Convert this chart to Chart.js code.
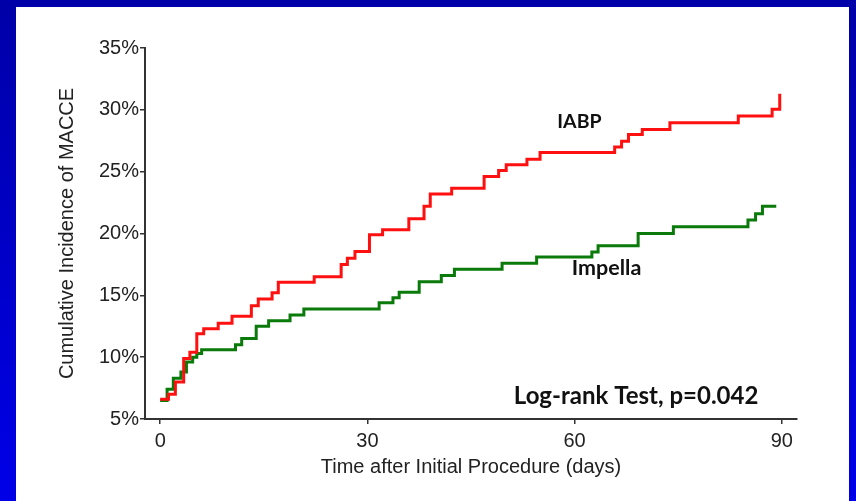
<!DOCTYPE html>
<html>
<head>
<meta charset="utf-8">
<script src="https://cdn.jsdelivr.net/npm/chart.js@4.4.1/dist/chart.umd.min.js"></script>
<style>
  html, body { margin: 0; padding: 0; }
  body {
    width: 856px;
    height: 501px;
    overflow: hidden;
    background: linear-gradient(to bottom, #0000a8, #0000e8);
    position: relative;
  }
  #panel {
    position: absolute;
    left: 16px;
    top: 7px;
    width: 833px;
    height: 494px;
    background: #fff;
  }
  #wrap {
    position: absolute;
    left: 0;
    top: 0;
    width: 856px;
    height: 501px;
  }
</style>
</head>
<body>
<div id="panel"></div>
<div id="wrap"><canvas id="chart"></canvas></div>
<script>
// Kaplan-Meier style cumulative incidence
const iabpDays = [0, 1.2, 2.2, 3.4, 4.3, 5.3, 6.3, 8.4, 10.4, 13.2, 14.2, 16.2, 17.1, 22.3, 26.2, 27.1, 28.2, 30.3, 32.2, 36.0, 38.2, 39.1, 42.2, 46.9, 49.0, 50.1, 53.1, 55.0, 65.8, 66.8, 67.8, 69.8, 73.8, 83.7, 88.6, 89.7];
const iabpRate = [6.6, 7.0, 8.0, 9.9, 10.4, 11.9, 12.3, 12.75, 13.3, 14.15, 14.7, 15.2, 16.05, 16.5, 17.5, 18.0, 18.55, 19.9, 20.3, 21.2, 22.2, 23.2, 23.65, 24.6, 25.1, 25.55, 26.0, 26.55, 27.0, 27.45, 28.0, 28.4, 28.95, 29.5, 30.05, 31.3];

const impellaDays = [0, 1.0, 1.9, 3.0, 3.8, 4.7, 5.3, 6.0, 10.9, 11.8, 13.9, 15.7, 18.8, 20.8, 31.7, 33.7, 34.6, 37.5, 40.7, 42.6, 49.5, 54.5, 62.5, 63.4, 69.2, 74.3, 85.1, 86.2, 87.2, 89.2];
const impellaRate = [6.5, 7.4, 8.3, 8.8, 9.6, 10.0, 10.3, 10.6, 11.0, 11.5, 12.5, 12.95, 13.4, 13.9, 14.4, 14.8, 15.25, 16.1, 16.6, 17.1, 17.6, 18.1, 18.5, 19.0, 20.0, 20.55, 21.1, 21.6, 22.2, 22.2];

const xTicks = [0, 30, 60, 90];
const yTicks = [5, 10, 15, 20, 25, 30, 35];

// labels placed in data units
const notes = [
  { text: 'IABP', x: 57.5, y: 28.5, size: 19.5 },
  { text: 'Impella', x: 59.6, y: 16.63, size: 21.5 },
  { text: 'Log-rank Test, p=0.042', x: 51.2, y: 6.22, size: 24 },
];

const toPoints = (days, rate) => days.map((d, i) => ({ x: d, y: rate[i] }));

const axisColor = '#333';

const notesPlugin = {
  id: 'notes',
  afterDatasetsDraw(chart) {
    const { ctx, scales } = chart;
    ctx.save();
    ctx.fillStyle = '#111';
    ctx.textBaseline = 'alphabetic';
    ctx.textAlign = 'left';
    notes.forEach((n) => {
      ctx.font = 'bold ' + n.size + 'px Lato';
      ctx.fillText(n.text, scales.x.getPixelForValue(n.x), scales.y.getPixelForValue(n.y));
    });
    ctx.restore();
  },
};

const ctx = document.getElementById('chart').getContext('2d');
new Chart(ctx, {
  type: 'line',
  data: {
    datasets: [
      {
        label: 'IABP',
        data: toPoints(iabpDays, iabpRate),
        borderColor: '#ff1010',
        borderWidth: 3,
        stepped: 'before',
        pointRadius: 0,
        fill: false,
      },
      {
        label: 'Impella',
        data: toPoints(impellaDays, impellaRate),
        borderColor: '#0a7a0a',
        borderWidth: 3,
        stepped: 'before',
        pointRadius: 0,
        fill: false,
      },
    ],
  },
  options: {
    responsive: true,
    maintainAspectRatio: false,
    animation: false,
    layout: { padding: { left: 51, top: 48, right: 59, bottom: 18 } },
    plugins: {
      legend: { display: false },
      tooltip: { enabled: false },
    },
    scales: {
      x: {
        type: 'linear',
        min: -2.2,
        max: 92.2,
        afterBuildTicks: (axis) => {
          axis.ticks = xTicks.map((v) => ({ value: v }));
        },
        afterFit: (axis) => {
          axis.height = 64;
        },
        grid: { drawOnChartArea: false, drawTicks: true, tickLength: 5, color: axisColor, lineWidth: 1.5 },
        border: { color: axisColor, width: 2 },
        ticks: {
          color: '#222',
          font: { family: 'Liberation Sans', size: 20 },
          padding: 5,
          maxRotation: 0,
        },
        title: {
          display: true,
          text: 'Time after Initial Procedure (days)',
          color: '#222',
          font: { family: 'Liberation Sans', size: 20 },
        },
      },
      y: {
        min: 5,
        max: 35,
        afterBuildTicks: (axis) => {
          axis.ticks = yTicks.map((v) => ({ value: v }));
        },
        afterFit: (axis) => {
          axis.width = 94;
        },
        grid: { drawOnChartArea: false, drawTicks: true, tickLength: 5, color: axisColor, lineWidth: 1.5 },
        border: { color: axisColor, width: 2 },
        ticks: {
          color: '#222',
          font: { family: 'Liberation Sans', size: 20 },
          padding: 1,
          callback: (v) => v + '%',
        },
        title: {
          display: true,
          text: 'Cumulative Incidence of MACCE',
          color: '#222',
          font: { family: 'Liberation Sans', size: 20 },
        },
      },
    },
  },
  plugins: [notesPlugin],
});
</script>
</body>
</html>
